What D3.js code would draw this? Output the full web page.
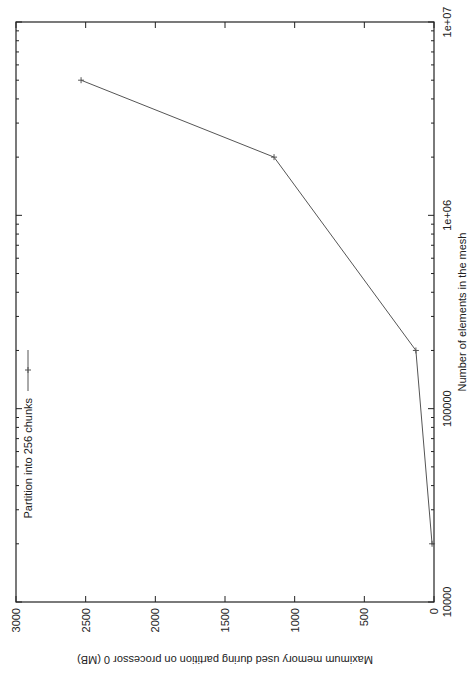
<!DOCTYPE html>
<html>
<head>
<meta charset="utf-8">
<script src="https://cdn.jsdelivr.net/npm/d3@7"></script>
<style>
	body { margin: 0; background: #fff; }
	text { font-family: "Liberation Sans", Arial, sans-serif; font-size: 11px; fill: #222; }
</style>
</head>
<body>
<div id="chart"></div>
<script>

// data
const elements = [20000, 200000, 2000000, 5000000];
const memoryMB = [14, 130, 1148, 2533];
const yTicks = [0, 500, 1000, 1500, 2000, 2500, 3000];
const xTicks = [10000, 100000, 1000000, 10000000];
const xTickLabels = ["10000", "100000", "1e+06", "1e+07"];

const W = 474, H = 677;

// the plot is drawn unrotated (677 wide, 474 high) and then turned by -90deg
let svg = d3.select("#chart").append("svg")
	.attr("width", W)
	.attr("height", H);

let g = svg.append("g")
	.attr("transform", "translate(0," + H + ") rotate(-90)");

const pLeft = 75, pRight = 655, pTop = 16, pBottom = 434;

let x = d3.scaleLog().domain([10000, 10000000]).range([pLeft, pRight]);
let y = d3.scaleLinear().domain([0, 3000]).range([pBottom, pTop]);

//frame
g.append("rect")
	.attr("x", pLeft).attr("y", pTop)
	.attr("width", pRight - pLeft).attr("height", pBottom - pTop)
	.attr("fill", "none").attr("stroke", "#222").attr("stroke-width", 1.2);

//y ticks, both sides
yTicks.forEach((v)=>{
	g.append("line").attr("x1", pLeft).attr("x2", pLeft + 6)
		.attr("y1", y(v)).attr("y2", y(v)).attr("stroke", "#222");
	g.append("line").attr("x1", pRight).attr("x2", pRight - 6)
		.attr("y1", y(v)).attr("y2", y(v)).attr("stroke", "#222");
	g.append("text")
		.attr("x", pLeft - 6).attr("y", y(v) + 4)
		.attr("text-anchor", "end")
		.text(v);
});

//x ticks, major and minor
for (let e = 4; e < 7; e++) {
	for (let m = 2; m < 10; m++) {
		let xv = x(m * Math.pow(10, e));
		g.append("line").attr("x1", xv).attr("x2", xv)
			.attr("y1", pBottom).attr("y2", pBottom - 3).attr("stroke", "#222");
		g.append("line").attr("x1", xv).attr("x2", xv)
			.attr("y1", pTop).attr("y2", pTop + 3).attr("stroke", "#222");
	}
}
xTicks.forEach((v, i)=>{
	g.append("line").attr("x1", x(v)).attr("x2", x(v))
		.attr("y1", pBottom).attr("y2", pBottom - 6).attr("stroke", "#222");
	g.append("line").attr("x1", x(v)).attr("x2", x(v))
		.attr("y1", pTop).attr("y2", pTop + 6).attr("stroke", "#222");
	g.append("text")
		.attr("x", x(v)).attr("y", pBottom + 17)
		.attr("text-anchor", "middle")
		.text(xTickLabels[i]);
});

//axis labels
g.append("text")
	.attr("x", (pLeft + pRight) / 2).attr("y", pBottom + 32)
	.attr("text-anchor", "middle")
	.text("Number of elements in the mesh");

g.append("text")
	.attr("transform", "translate(21," + (pTop + pBottom) / 2 + ") rotate(-90)")
	.attr("text-anchor", "middle")
	.text("Maximum memory used during partition on processor 0 (MB)");

//series
let pts = elements.map((d, i)=>{ return [x(d), y(memoryMB[i])]; });

g.append("path")
	.attr("d", d3.line()(pts))
	.attr("fill", "none")
	.attr("stroke", "#555")
	.attr("stroke-width", 1);

function cross(px, py){
	g.append("line").attr("x1", px - 3).attr("x2", px + 3)
		.attr("y1", py).attr("y2", py).attr("stroke", "#555");
	g.append("line").attr("x1", px).attr("x2", px)
		.attr("y1", py - 3).attr("y2", py + 3).attr("stroke", "#555");
}
pts.forEach((p)=>{ cross(p[0], p[1]); });

//legend
g.append("text")
	.attr("x", 279).attr("y", 32)
	.attr("text-anchor", "end")
	.text("Partition into 256 chunks");
g.append("line")
	.attr("x1", 286).attr("x2", 327)
	.attr("y1", 28).attr("y2", 28)
	.attr("stroke", "#555");
cross(307, 28);

</script>
</body>
</html>
